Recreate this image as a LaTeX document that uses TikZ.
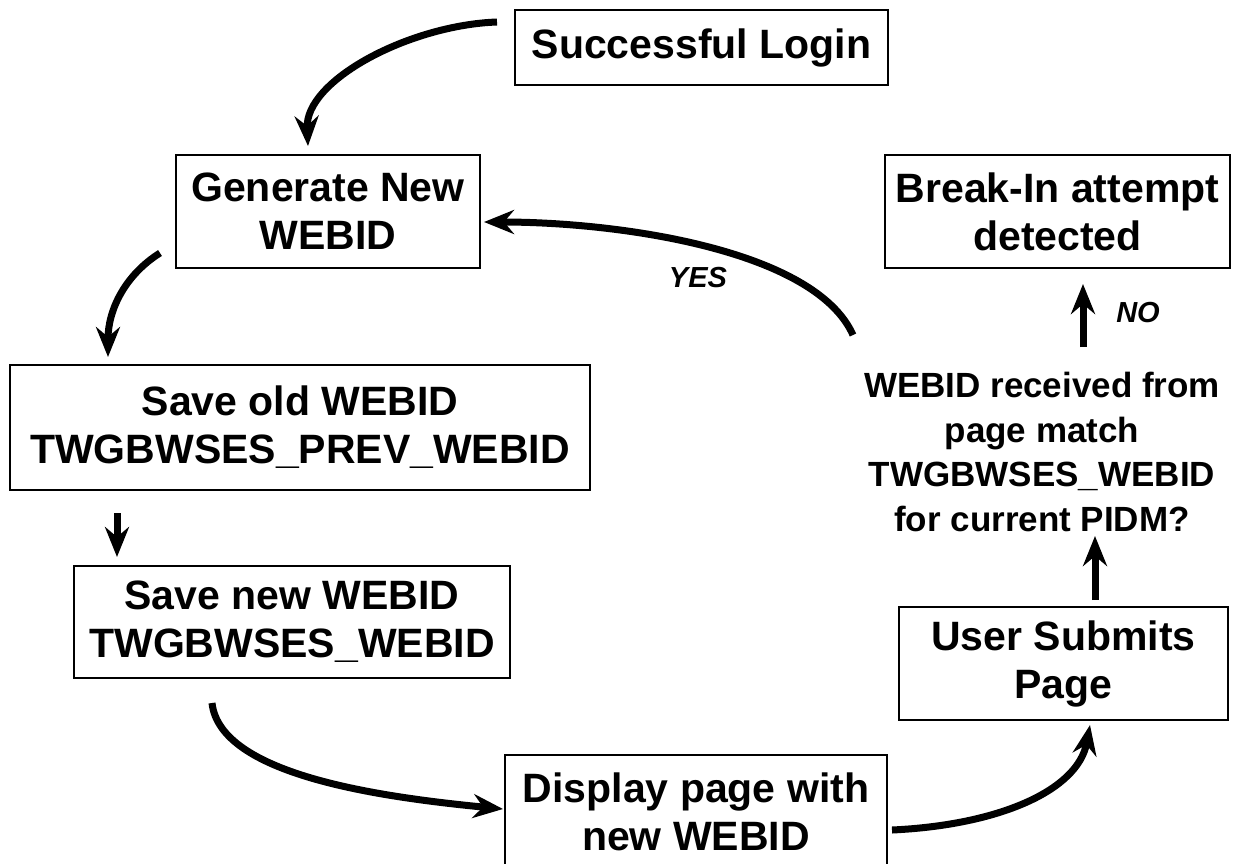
\documentclass[tikz,border=0pt]{standalone}
\usepackage{fontspec}
\setmainfont{Liberation Sans}
\usetikzlibrary{arrows.meta}
\begin{document}
\begin{tikzpicture}[x=1pt,y=-1pt,
  box/.style={draw, line width=1.5pt, font=\bfseries\fontsize{41}{48}\selectfont, align=center, inner sep=0pt},
  conn/.style={line width=7pt, -{Stealth[length=30pt,width=24pt,inset=10pt]}},
  lab/.style={font=\bfseries\itshape\fontsize{29}{33}\selectfont}]
\useasboundingbox (0,0) rectangle (1242,863);
\node[box, minimum width=373pt, minimum height=75pt] (login) at (701.5,47.5) {Successful Login};
\node[box, minimum width=304pt, minimum height=113pt] (gen) at (328,211.5) {Generate New\\WEBID};
\node[box, minimum width=345pt, minimum height=113pt] (brk) at (1057.5,211.5) {Break-In attempt\\detected};
\node[box, minimum width=580pt, minimum height=125pt] (old) at (300,427.5) {Save old WEBID\\TWGBWSES\_PREV\_WEBID};
\node[box, minimum width=436pt, minimum height=112pt] (new) at (292,622) {Save new WEBID\\TWGBWSES\_WEBID};
\node[box, minimum width=329pt, minimum height=113pt] (user) at (1063.5,663.5) {User Submits\\Page};
\node[box, minimum width=382pt, minimum height=114pt] (disp) at (696,812) {Display page with\\new WEBID};
\node[font=\bfseries\fontsize{35}{44.5}\selectfont, align=center] (dec) at (1042,452) {WEBID received from\\page match\\TWGBWSES\_WEBID\\for current PIDM?};
\node[lab] (yes) at (698,278) {YES};
\node[lab] (no) at (1138,313) {NO};

\coordinate (c1s) at (497,22);   \coordinate (c1e) at (308,146);
\coordinate (c2s) at (160,253);  \coordinate (c2e) at (108,357);
\coordinate (c3s) at (117,513);  \coordinate (c3e) at (117,557);
\coordinate (c4s) at (212,703);  \coordinate (c4e) at (503,809);
\coordinate (c5s) at (892,830);  \coordinate (c5e) at (1090,725);
\coordinate (c6s) at (1095,600); \coordinate (c6e) at (1095,536);
\coordinate (c7s) at (1083,347); \coordinate (c7e) at (1083,284);
\coordinate (c8s) at (853,335);  \coordinate (c8e) at (484,222);

\draw[conn] (c1s) .. controls (410,25) and (305,80) .. (c1e);
\draw[conn] (c2s) .. controls (125,275) and (108,310) .. (c2e);
\draw[conn] (c3s) -- (c3e);
\draw[conn] (c4s) .. controls (220,775) and (380,797) .. (c4e);
\draw[conn] (c5s) .. controls (1000,825) and (1078,790) .. (c5e);
\draw[conn] (c6s) -- (c6e);
\draw[conn] (c7s) -- (c7e);
\draw[conn] (c8s) .. controls (815,250) and (620,222) .. (c8e);
\end{tikzpicture}
\end{document}
